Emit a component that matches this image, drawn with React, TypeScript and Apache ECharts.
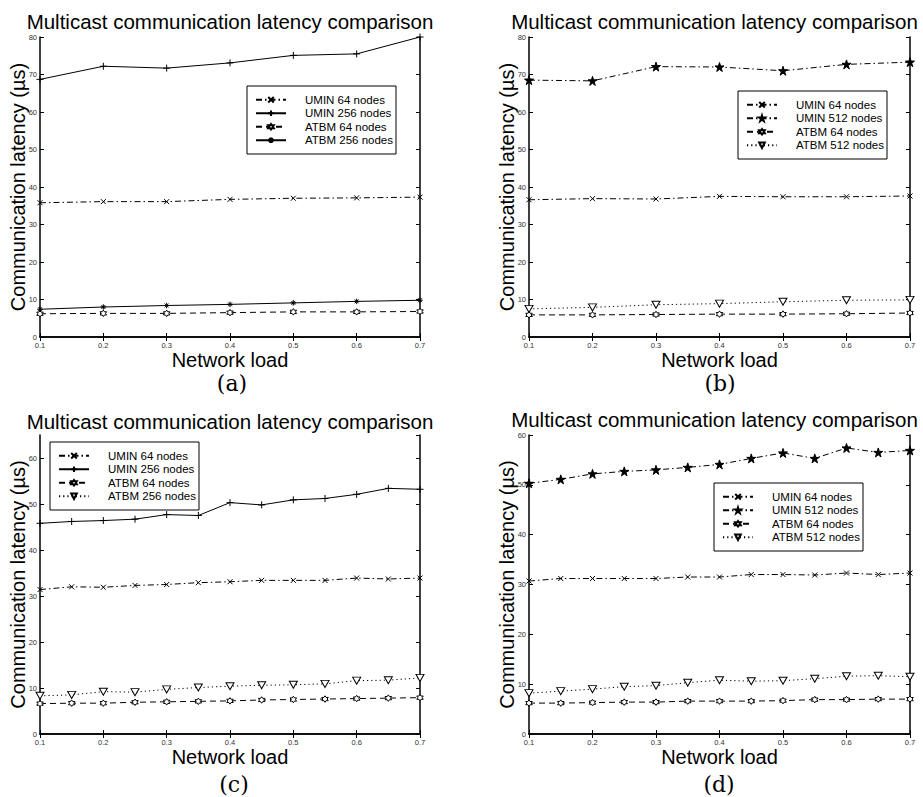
import React, { useEffect, useRef } from "react";
import * as echarts from "echarts";

// ---------- data ----------
const loadsCoarse = [0.1, 0.2, 0.3, 0.4, 0.5, 0.6, 0.7];
const loadsFine = [0.1, 0.15, 0.2, 0.25, 0.3, 0.35, 0.4, 0.45, 0.5, 0.55, 0.6, 0.65, 0.7];

const aUmin64 = [35.8, 36.1, 36.1, 36.7, 37.0, 37.1, 37.3];
const aUmin256 = [68.7, 72.2, 71.7, 73.1, 75.1, 75.5, 80.0];
const aAtbm64 = [6.2, 6.3, 6.3, 6.5, 6.7, 6.7, 6.8];
const aAtbm256 = [7.4, 8.0, 8.4, 8.7, 9.1, 9.5, 9.8];

const bUmin64 = [36.6, 36.9, 36.8, 37.5, 37.4, 37.4, 37.6];
const bUmin512 = [68.5, 68.3, 72.1, 72.0, 71.0, 72.7, 73.3];
const bAtbm64 = [5.9, 5.9, 6.0, 6.1, 6.1, 6.2, 6.4];
const bAtbm512 = [7.5, 7.9, 8.6, 8.9, 9.4, 9.8, 9.9];

const cUmin64 = [31.4, 32.0, 31.9, 32.3, 32.5, 32.9, 33.1, 33.4, 33.4, 33.4, 33.9, 33.7, 33.9];
const cUmin256 = [45.8, 46.2, 46.4, 46.7, 47.7, 47.5, 50.3, 49.8, 50.9, 51.2, 52.1, 53.4, 53.2];
const cAtbm64 = [6.6, 6.7, 6.7, 6.9, 7.0, 7.1, 7.2, 7.4, 7.5, 7.6, 7.7, 7.8, 7.9];
const cAtbm256 = [8.3, 8.5, 9.2, 9.1, 9.7, 10.1, 10.4, 10.6, 10.7, 10.9, 11.6, 11.7, 12.2];

const dUmin64 = [30.7, 31.2, 31.2, 31.2, 31.2, 31.5, 31.5, 32.0, 32.0, 31.9, 32.3, 32.0, 32.3];
const dUmin512 = [50.3, 51.1, 52.2, 52.7, 53.0, 53.5, 54.1, 55.3, 56.4, 55.3, 57.4, 56.5, 56.9];
const dAtbm64 = [6.2, 6.2, 6.3, 6.4, 6.4, 6.6, 6.6, 6.6, 6.7, 6.9, 6.9, 7.0, 7.0];
const dAtbm512 = [8.2, 8.6, 9.0, 9.5, 9.7, 10.3, 10.8, 10.6, 10.7, 11.1, 11.6, 11.7, 11.5];

const yMaxA = 80;
const yMaxB = 80;
const yMaxC = 65;
const yMaxD = 60;
const yInterval = 10;
const xMin = 0.1;
const xMax = 0.7;
const xInterval = 0.1;

const chartTitle = "Multicast communication latency comparison";
const xAxisName = "Network load";
const yAxisName = "Communication latency (\u00b5s)";
const captions = ["(a)", "(b)", "(c)", "(d)"];

// ---------- styles ----------
const FONT = "'Liberation Sans', Arial, Helvetica, sans-serif";
const SERIF = "'DejaVu Serif', 'Liberation Serif', serif";

const SYM_X = "path://M0,0L10,10M10,0L0,10";
const SYM_PLUS = "path://M5,0L5,10M0,5L10,5";
const SYM_AST = "path://M5,0L5,10M0,5L10,5M1.5,1.5L8.5,8.5M8.5,1.5L1.5,8.5";
const SYM_HEX =
  "path://M5,0L6.44,2.5L9.33,2.5L7.89,5L9.33,7.5L6.44,7.5L5,10L3.56,7.5L0.67,7.5L2.11,5L0.67,2.5L3.56,2.5Z";
const SYM_PENT =
  "path://M5,0L6.123,3.455L9.755,3.455L6.816,5.59L7.939,9.045L5,6.91L2.061,9.045L3.184,5.59L0.245,3.455L3.877,3.455Z";
const SYM_TRI = "path://M0,0L10,0L5,9Z";

const DASHDOT = [6, 3, 1.5, 3];
const DASHED = [6, 4];
const DOTTED = [1.2, 3];

type Kind = "umin64" | "umin256" | "umin512" | "atbm64" | "atbm256solid" | "atbmTri";

const kindStyle: Record<Kind, any> = {
  umin64: { symbol: SYM_X, symbolSize: 5, line: DASHDOT, fill: "#000" },
  umin256: { symbol: SYM_PLUS, symbolSize: 7, line: "solid", fill: "#000" },
  umin512: { symbol: SYM_PENT, symbolSize: 9, line: DASHDOT, fill: "#000" },
  atbm64: { symbol: SYM_HEX, symbolSize: 6.5, line: DASHED, fill: "#fff" },
  atbm256solid: { symbol: SYM_AST, symbolSize: 5.5, line: "solid", fill: "#000" },
  atbmTri: { symbol: SYM_TRI, symbolSize: [8, 7], line: DOTTED, fill: "#fff" },
};

type Panel = {
  left: number;
  top: number;
  loads: number[];
  yMax: number;
  series: { name: string; kind: Kind; values: number[] }[];
  grid: { left: number; top: number; width: number; height: number };
  titleX: number;
  titleY: number;
  capX: number;
  capY: number;
  caption: string;
  legendLeft: number;
  legendTop: number;
};

const panels: Panel[] = [
  {
    left: 0,
    top: 0,
    loads: loadsCoarse,
    yMax: yMaxA,
    series: [
      { name: "UMIN 64 nodes", kind: "umin64", values: aUmin64 },
      { name: "UMIN 256 nodes", kind: "umin256", values: aUmin256 },
      { name: "ATBM 64 nodes", kind: "atbm64", values: aAtbm64 },
      { name: "ATBM 256 nodes", kind: "atbm256solid", values: aAtbm256 },
    ],
    grid: { left: 40, top: 37, width: 380, height: 300 },
    titleX: 230,
    titleY: 21,
    capX: 232,
    capY: 383,
    caption: captions[0],
    legendLeft: 247,
    legendTop: 86,
  },
  {
    left: 461,
    top: 0,
    loads: loadsCoarse,
    yMax: yMaxB,
    series: [
      { name: "UMIN 64 nodes", kind: "umin64", values: bUmin64 },
      { name: "UMIN 512 nodes", kind: "umin512", values: bUmin512 },
      { name: "ATBM 64 nodes", kind: "atbm64", values: bAtbm64 },
      { name: "ATBM 512 nodes", kind: "atbmTri", values: bAtbm512 },
    ],
    grid: { left: 68, top: 37, width: 381, height: 300 },
    titleX: 253.5,
    titleY: 21,
    capX: 259,
    capY: 383,
    caption: captions[1],
    legendLeft: 277,
    legendTop: 91,
  },
  {
    left: 0,
    top: 398,
    loads: loadsFine,
    yMax: yMaxC,
    series: [
      { name: "UMIN 64 nodes", kind: "umin64", values: cUmin64 },
      { name: "UMIN 256 nodes", kind: "umin256", values: cUmin256 },
      { name: "ATBM 64 nodes", kind: "atbm64", values: cAtbm64 },
      { name: "ATBM 256 nodes", kind: "atbmTri", values: cAtbm256 },
    ],
    grid: { left: 40, top: 37, width: 380, height: 299 },
    titleX: 230,
    titleY: 23,
    capX: 234,
    capY: 386,
    caption: captions[2],
    legendLeft: 50,
    legendTop: 44,
  },
  {
    left: 461,
    top: 398,
    loads: loadsFine,
    yMax: yMaxD,
    series: [
      { name: "UMIN 64 nodes", kind: "umin64", values: dUmin64 },
      { name: "UMIN 512 nodes", kind: "umin512", values: dUmin512 },
      { name: "ATBM 64 nodes", kind: "atbm64", values: dAtbm64 },
      { name: "ATBM 512 nodes", kind: "atbmTri", values: dAtbm512 },
    ],
    grid: { left: 68, top: 37, width: 381, height: 299 },
    titleX: 253.5,
    titleY: 21,
    capX: 258,
    capY: 386,
    caption: captions[3],
    legendLeft: 253,
    legendTop: 85,
  },
];

const PANEL_W = 462;
const PANEL_H = 399;

function makeOption(p: Panel) {
  const axisLine = { show: true, lineStyle: { color: "#000", width: 1.5 } };
  const tick = { show: true, inside: true, length: 4, lineStyle: { color: "#000", width: 1 } };
  const tickLabel = { fontSize: 7.5, color: "#333", fontFamily: FONT };
  const xBase = {
    type: "value",
    min: xMin,
    max: xMax,
    interval: xInterval,
    gridIndex: 0,
    splitLine: { show: false },
    axisLine,
    axisTick: tick,
  };
  const yBase = {
    type: "value",
    min: 0,
    max: p.yMax,
    interval: yInterval,
    gridIndex: 0,
    splitLine: { show: false },
    axisLine,
    axisTick: tick,
  };
  return {
    animation: false,
    backgroundColor: "#fff",
    grid: [{ ...p.grid, containLabel: false, outerBoundsMode: "none" }],
    xAxis: [
      {
        ...xBase,
        position: "bottom",
        axisLabel: { ...tickLabel, margin: 4 },
        name: xAxisName,
        nameLocation: "middle",
        nameGap: 13,
        nameMoveOverlap: false,
        nameTextStyle: { fontSize: 20, color: "#000", fontFamily: FONT },
      },
      { ...xBase, position: "top", axisLabel: { show: false } },
    ],
    yAxis: [
      {
        ...yBase,
        position: "left",
        axisLabel: { ...tickLabel, margin: 3, showMaxLabel: p.yMax % yInterval === 0 },
        name: yAxisName,
        nameLocation: "middle",
        nameGap: 12,
        nameMoveOverlap: false,
        nameTextStyle: { fontSize: 20, color: "#000", fontFamily: FONT },
      },
      { ...yBase, position: "right", axisLabel: { show: false } },
    ],
    legend: {
      orient: "vertical",
      left: p.legendLeft,
      top: p.legendTop,
      selectedMode: false,
      backgroundColor: "#fff",
      borderColor: "#000",
      borderWidth: 1,
      borderRadius: 0,
      padding: [7, 3, 7, 8],
      itemWidth: 30,
      itemHeight: 7,
      itemGap: 0,
      textStyle: {
        fontSize: 11.5,
        color: "#000",
        fontFamily: FONT,
        lineHeight: 13.5,
        padding: [0, 0, 0, 14],
      },
      data: p.series.map((s) => s.name),
    },
    graphic: [
      {
        type: "text",
        x: p.titleX,
        y: p.titleY,
        style: {
          text: chartTitle,
          fontSize: 20.5,
          fontFamily: FONT,
          fill: "#000",
          align: "center",
          verticalAlign: "middle",
        },
      },
      {
        type: "text",
        x: p.capX,
        y: p.capY,
        style: {
          text: p.caption,
          fontSize: 22,
          fontFamily: SERIF,
          fill: "#000",
          align: "center",
          verticalAlign: "middle",
        },
      },
    ],
    series: p.series.map((s) => {
      const st = kindStyle[s.kind];
      return {
        name: s.name,
        type: "line",
        xAxisIndex: 0,
        yAxisIndex: 0,
        data: p.loads.map((x, i) => [x, s.values[i]]),
        showSymbol: true,
        symbol: st.symbol,
        symbolSize: st.symbolSize,
        lineStyle: { color: "#000", width: 1, type: st.line },
        itemStyle: { color: st.fill, borderColor: "#000", borderWidth: 1 },
        emphasis: { disabled: true },
        silent: true,
        clip: false,
      };
    }),
  };
}

function PanelChart({ p }: { p: Panel }) {
  const ref = useRef<HTMLDivElement>(null);
  useEffect(() => {
    if (!ref.current) return;
    const chart = echarts.init(ref.current, null, { renderer: "svg" });
    chart.setOption(makeOption(p) as any);
    return () => chart.dispose();
  }, [p]);
  return (
    <div
      ref={ref}
      style={{ position: "absolute", left: p.left, top: p.top, width: PANEL_W, height: PANEL_H }}
    />
  );
}

export default function App() {
  return (
    <div
      style={{
        position: "absolute",
        left: 0,
        top: 0,
        width: 923,
        height: 797,
        background: "#fff",
        overflow: "hidden",
      }}
    >
      {panels.map((p, i) => (
        <PanelChart key={i} p={p} />
      ))}
    </div>
  );
}
